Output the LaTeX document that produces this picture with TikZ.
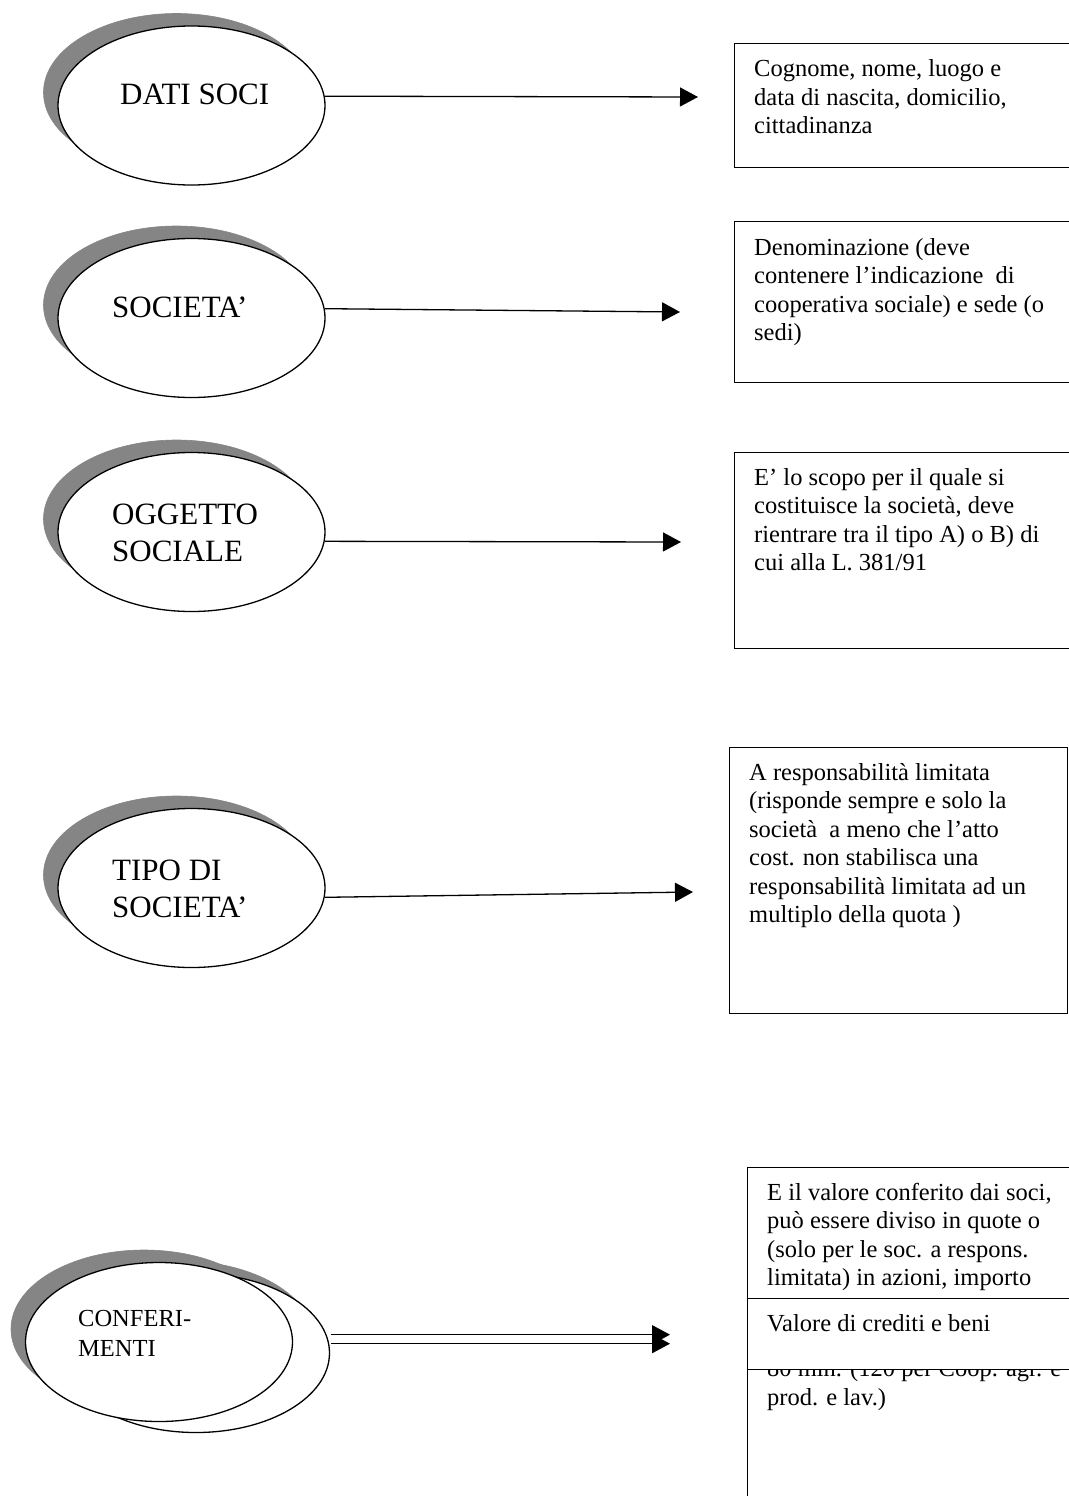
\documentclass[tikz,border=0pt]{standalone}
\usepackage{fontspec}
\setmainfont{Liberation Serif}
\usetikzlibrary{shapes.geometric,arrows.meta,calc}
\definecolor{shadowgray}{HTML}{858585}
\begin{document}
\begin{tikzpicture}[x=1pt,y=-1pt,
  ell/.style={ellipse,draw=black,line width=1.3pt,fill=white,minimum width=267pt,minimum height=159pt,inner sep=0pt},
  shad/.style={fill=shadowgray,draw=shadowgray,line width=0.6pt},
  boxtxt/.style={anchor=north west,inner sep=0pt,align=left,font=\fontsize{24.5pt}{28.5pt}\selectfont},
  elltxt/.style={anchor=north west,inner sep=0pt,align=left,font=\fontsize{31pt}{37pt}\selectfont},
  smalltxt/.style={anchor=north west,inner sep=0pt,align=left,font=\fontsize{24.5pt}{30pt}\selectfont},
  arr/.style={-{Triangle[length=18pt,width=19pt]},line width=1.3pt},
  framebox/.style={rectangle,draw=black,line width=1.4pt,anchor=north west,inner sep=0pt}]
\useasboundingbox (0,0) rectangle (1068,1496);

% shadows
\path[shad] (176.5,92.5) ellipse [x radius=133pt, y radius=79pt];
\path[shad] (176.5,305) ellipse [x radius=133pt, y radius=79pt];
\path[shad] (176.5,519) ellipse [x radius=133pt, y radius=79pt];
\path[shad] (176.5,875) ellipse [x radius=133pt, y radius=79pt];
\path[shad] (181,1340) ellipse [x radius=133pt, y radius=79pt];
\path[shad] (144,1329) ellipse [x radius=133pt, y radius=79pt];

% ellipses
\node[ell] (dati) at (191.5,105.5) {};
\node[ell] (soc) at (191.5,318) {};
\node[ell] (ogg) at (191.5,532) {};
\node[ell] (tipo) at (191.5,888) {};
\node[ell] (confb) at (196,1353) {};
\node[ell] (conff) at (159,1342) {};

% ellipse texts
\node[elltxt] (tdati) at (120,78.1) {\strut DATI SOCI};
\node[elltxt] (tsoc) at (112,291.1) {\strut SOCIETA’};
\node[elltxt] (togg) at (112,498.1) {\strut OGGETTO\\SOCIALE};
\node[elltxt] (ttipo) at (112,854.1) {\strut TIPO DI\\SOCIETA’};
\node[smalltxt] (tconf) at (78,1305) {\strut CONFERI-\\MENTI};

% boxes
\node[framebox,minimum width=346pt,minimum height=124pt] (b1) at (734,43) {};
\node[framebox,minimum width=346pt,minimum height=161pt] (b2) at (734,221) {};
\node[framebox,minimum width=346pt,minimum height=196pt] (b3) at (734,452) {};
\node[framebox,minimum width=338pt,minimum height=266pt] (b4) at (729,747) {};
\node[framebox,minimum width=343pt,minimum height=343pt] (b5) at (747,1167) {};

\node[boxtxt] (x1) at (754,56.75) {\strut Cognome, nome, luogo e\\data di nascita, domicilio,\\cittadinanza};
\node[boxtxt] (x2) at (754,235.05) {\strut Denominazione (deve\\contenere l’indicazione\ \ di\\cooperativa sociale) e sede (o\\sedi)};
\node[boxtxt] (x3) at (754,465.05) {\strut E’ lo scopo per il quale si\\costituisce la società, deve\\rientrare tra il tipo A) o B) di\\cui alla L. 381/91};
\node[boxtxt] (x4) at (749,760.05) {\strut A responsabilità limitata\\(risponde sempre e solo la\\società\ \ a meno che l’atto\\cost. non stabilisca una\\responsabilità limitata ad un\\multiplo della quota )};
\node[boxtxt] (x5) at (767,1180.05) {\strut E il valore conferito dai soci,\\può essere diviso in quote o\\(solo per le soc. a respons.\\limitata) in azioni, importo};
\node[boxtxt] (x5s) at (767,1356.05) {\strut 80 mln. (120 per Coop. agr. e};
\node[boxtxt] (x5p) at (767,1385.05) {\strut prod. e lav.)};

\node[framebox,fill=white,minimum width=343pt,minimum height=71pt] (b6) at (747,1298) {};
\node[boxtxt] (x6) at (767,1311.05) {\strut Valore di crediti e beni};

% arrow tips
\coordinate (t1) at (698,97);
\coordinate (t2) at (680,312);
\coordinate (t3) at (681,542);
\coordinate (t4) at (693,892);
\coordinate (t5a) at (670,1334);
\coordinate (t5b) at (670,1345);

\draw[arr] (dati.4) -- (t1);
\draw[arr] (soc.4) -- (t2);
\draw[arr] (ogg.-4.3) -- (t3);
\draw[arr] (tipo.-4) -- (t4);
\draw[arr] ($(confb.8.3)+(4,0)$) -- (t5a |- confb.8.3);
\draw[arr] ($(confb.4)+(2,0)$) -- (t5b |- confb.4);
\end{tikzpicture}
\end{document}
